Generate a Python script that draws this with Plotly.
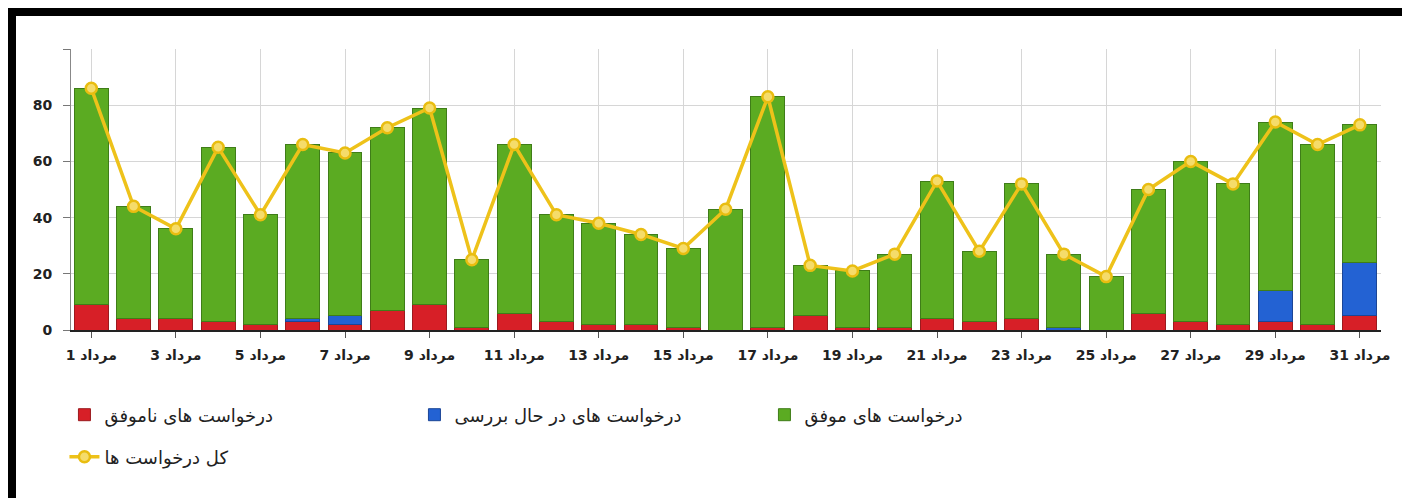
import plotly.graph_objects as go

# Mordad days
days = [f"مرداد {d}" for d in range(1, 32)]
tick_days = days[::2]

failed = [9, 4, 4, 3, 2, 3, 2, 7, 9, 1, 6, 3, 2, 2, 1, 0,
          1, 5, 1, 1, 4, 3, 4, 0, 0, 6, 3, 2, 3, 2, 5]
pending = [0, 0, 0, 0, 0, 1, 3, 0, 0, 0, 0, 0, 0, 0, 0, 0,
           0, 0, 0, 0, 0, 0, 0, 1, 0, 0, 0, 0, 11, 0, 19]
total = [86, 44, 36, 65, 41, 66, 63, 72, 79, 25, 66, 41, 38, 34, 29, 43,
         83, 23, 21, 27, 53, 28, 52, 27, 19, 50, 60, 52, 74, 66, 73]
success = [t - f - p for t, f, p in zip(total, failed, pending)]

y_ticks = [0, 20, 40, 60, 80, 100]
y_tick_text = ["0", "20", "40", "60", "80", ""]

FONT = "DejaVu Sans, sans-serif"

# the page body has an 8px margin, so figure = window - 16
W, H = 1402, 490
# plot area in figure pixels
L, R, T, B = 63, 1373, 41, 322


def px_x(x):
    return (x - L) / (R - L)


def px_y(y):
    return (B - y) / (B - T)


fig = go.Figure()

fig.add_trace(go.Bar(
    x=days, y=failed, name="درخواست های ناموفق",
    marker=dict(color="#d71f27", line=dict(color="#9b1a1e", width=1)),
    legend="legend",
))
fig.add_trace(go.Bar(
    x=days, y=pending, name="درخواست های در حال بررسی",
    marker=dict(color="#2362d3", line=dict(color="#1b4596", width=1)),
    legend="legend",
))
fig.add_trace(go.Bar(
    x=days, y=success, name="درخواست های موفق",
    marker=dict(color="#5bab22", line=dict(color="#3f7d18", width=1)),
    legend="legend",
))
fig.add_trace(go.Scatter(
    x=days, y=total, name="کل درخواست ها", mode="lines+markers",
    line=dict(color="#eec21a", width=3.5),
    marker=dict(size=11, color="#f5dc6a", line=dict(color="#e9bd10", width=2.5)),
    legend="legend2",
))

# black card frame (top and left) and thin grey right edge
frame = [
    (px_x(0), px_y(8), px_x(W), px_y(0), "black"),
    (px_x(0), px_y(H), px_x(8), px_y(0), "black"),
    (px_x(W - 2), px_y(H), px_x(W), px_y(8), "#c8c8c8"),
]
shapes = [
    dict(type="rect", xref="paper", yref="paper", x0=a, y0=b, x1=c, y1=d,
         fillcolor=col, line=dict(width=0), layer="above")
    for a, b, c, d, col in frame
]

fig.update_layout(
    width=W, height=H,
    barmode="stack", bargap=0.2,
    paper_bgcolor="white", plot_bgcolor="white",
    margin=dict(l=L, r=W - R, t=T, b=H - B),
    font=dict(family=FONT, size=13, color="#222"),
    shapes=shapes,
    legend=dict(
        orientation="h", x=-0.005, xanchor="left",
        y=px_y(407), yanchor="middle",
        entrywidth=305, traceorder="normal",
        font=dict(size=18, color="#222"),
    ),
    legend2=dict(
        orientation="h", x=-0.005, xanchor="left",
        y=px_y(449), yanchor="middle",
        font=dict(size=18, color="#222"),
    ),
    xaxis=dict(
        type="category", range=[-0.48, 30.5],
        tickvals=tick_days, ticktext=tick_days,
        ticks="outside", ticklen=6, tickcolor="#555",
        ticklabelstandoff=5,
        showgrid=True, gridcolor="#d6d6d6",
        showline=True, linecolor="#222", linewidth=1.5,
        tickfont=dict(size=14, color="#222", weight="bold"),
        fixedrange=True,
    ),
    yaxis=dict(
        range=[0, 100], tickvals=y_ticks, ticktext=y_tick_text,
        ticks="outside", ticklen=7, tickcolor="#777",
        ticklabelstandoff=8,
        showgrid=True, gridcolor="#d6d6d6",
        showline=True, linecolor="#888", linewidth=1,
        zeroline=False,
        tickfont=dict(size=14, color="#222", weight="bold"),
        fixedrange=True,
    ),
)

fig.write_html("out.html")
